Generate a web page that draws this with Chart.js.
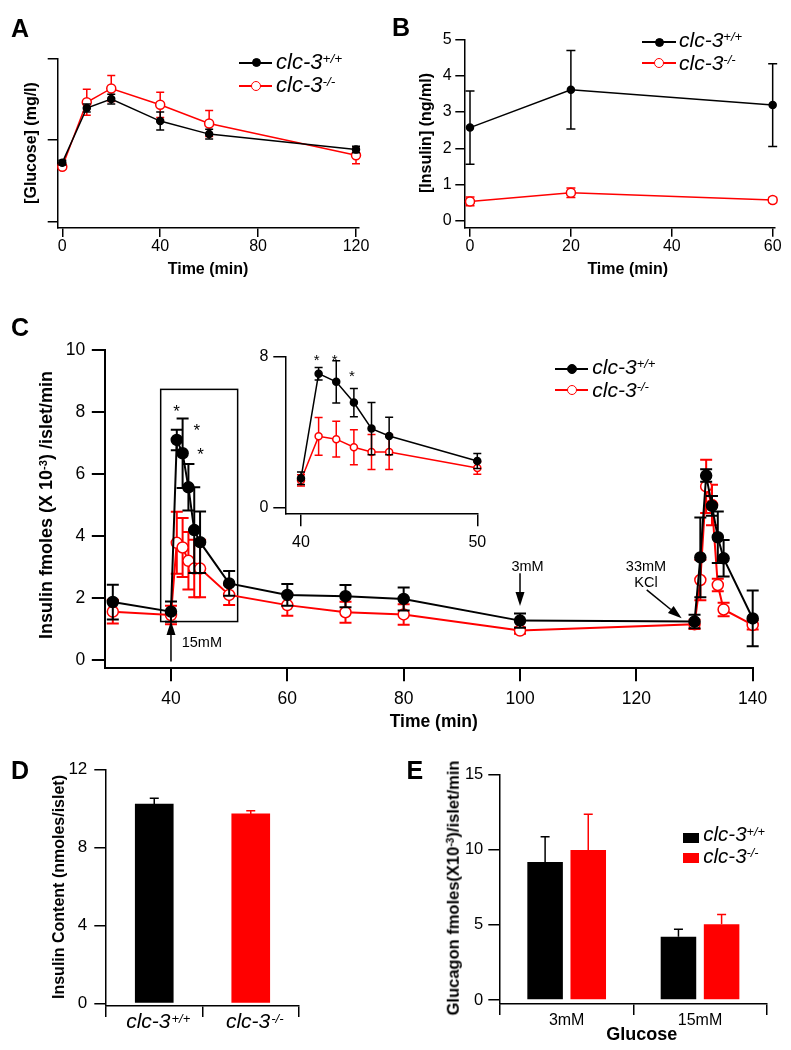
<!DOCTYPE html>
<html>
<head>
<meta charset="utf-8">
<title>clc-3 islet figure</title>
<script src="https://cdn.jsdelivr.net/npm/chart.js@4.4.1/dist/chart.umd.min.js"></script>
<style>
  body { margin: 0; background: #fff; }
  #fig { position: relative; width: 791px; height: 1050px; overflow: hidden;
         font-family: "Liberation Sans", Arial, Helvetica, sans-serif; color: #000; }
  #fig canvas { position: absolute; }
  .t { position: absolute; white-space: nowrap; line-height: 1; }
  .b { font-weight: bold; }
  .i { font-style: italic; }
  .t sup { font-size: 0.62em; vertical-align: baseline; position: relative; top: -0.45em; line-height: 0; }
  .sym { position: absolute; box-sizing: border-box; }
</style>
</head>
<body>
<div id="fig"></div>
<script>
// A: glucose tolerance
const glucoseTime = [0, 10, 20, 40, 60, 120];
const glucoseWT = [172, 239, 250, 223, 207, 188];
const glucoseWTErr = [3, 5, 6, 11, 6, 4];
const glucoseKO = [167, 246, 263, 243, 220, 181];
const glucoseKOErr = [3, 16, 16, 15.5, 16, 10.5];
const glucoseXTicks = [0, 40, 80, 120];
const glucoseYTicks = [100, 200, 300]; // unlabelled in the figure

// B: plasma insulin
const plasmaTime = [0, 20, 60];
const plasmaWT = [2.57, 3.61, 3.19];
const plasmaWTErr = [1.01, 1.08, 1.14];
const plasmaKO = [0.54, 0.78, 0.58];
const plasmaKOErr = [0.12, 0.13, 0.07];
const plasmaXTicks = [0, 20, 40, 60];
const plasmaYTicks = [0, 1, 2, 3, 4, 5];

// C: perifusion insulin secretion
const perifTime = [30, 40, 41, 42, 43, 44, 45, 50, 60, 70, 80, 100, 130, 131, 132, 133, 134, 135, 140];
const perifWT = [1.87, 1.56, 7.1, 6.67, 5.57, 4.19, 3.8, 2.47, 2.1, 2.06, 1.97, 1.27, 1.24, 3.31, 5.95, 4.97, 3.96, 3.28, 1.34];
const perifWTErr = [0.56, 0.33, 0.33, 1.12, 0.75, 1.38, 0.99, 0.4, 0.35, 0.36, 0.37, 0.23, 0.22, 1.29, 0.2, 0.32, 0.83, 0.59, 0.9];
const perifKO = [1.56, 1.45, 3.78, 3.63, 3.2, 2.95, 2.95, 2.1, 1.77, 1.54, 1.47, 0.95, 1.15, 2.58, 5.6, 5.0, 2.42, 1.63, 1.13];
const perifKOErr = [0.38, 0.3, 1.0, 0.95, 0.93, 0.93, 0.93, 0.33, 0.34, 0.34, 0.33, 0.1, 0.15, 0.65, 0.86, 0.65, 0.2, 0.22, 0.15];
const perifXTicks = [40, 60, 80, 100, 120, 140];
const perifYTicks = [0, 2, 4, 6, 8, 10];
const insetXTicks = [40, 50];
const insetYTicks = [0, 8];

// D: insulin content
const contentGenotypes = ['+/+', '-/-'];
const contentValues = [10.22, 9.71];
const contentErr = [0.29, 0.17];
const contentYTicks = [0, 4, 8, 12];

// E: glucagon secretion
const glucagonGlucose = ['3mM', '15mM'];
const glucagonWT = [9.17, 4.21];
const glucagonWTErr = [1.68, 0.49];
const glucagonKO = [9.97, 5.03];
const glucagonKOErr = [2.37, 0.66];
const glucagonYTicks = [0, 5, 10, 15];

const FONT = '"Liberation Sans", Arial, Helvetica, sans-serif';
const BLACK = '#000000';
const RED = '#ff0000';
const fig = document.getElementById('fig');

Chart.defaults.font.family = FONT;
Chart.defaults.color = '#000';
Chart.defaults.animation = false;
Chart.defaults.plugins.legend.display = false;
Chart.defaults.plugins.tooltip.enabled = false;

// error bars, drawn just before each dataset so the markers sit on top
const errorBars = {
  id: 'errorBars',
  beforeDatasetDraw(chart, args) {
    const ds = chart.data.datasets[args.index];
    if (!ds.errors) return;
    const meta = args.meta;
    const yScale = chart.scales[meta.yAxisID];
    const ctx = chart.ctx;
    const half = (ds.capWidth || 8) / 2;
    ctx.save();
    ctx.lineWidth = ds.errWidth || 1.5;
    meta.data.forEach((el, i) => {
      const v = meta.controller.getParsed(i).y;
      const e = ds.errors[i];
      const top = yScale.getPixelForValue(v + e);
      const bot = yScale.getPixelForValue(ds.upOnly ? v : v - e);
      const x = el.x;
      ctx.strokeStyle = Array.isArray(ds.errColor) ? ds.errColor[i] : (ds.errColor || ds.borderColor);
      ctx.beginPath();
      ctx.moveTo(x, bot); ctx.lineTo(x, top);
      ctx.moveTo(x - half, top); ctx.lineTo(x + half, top);
      if (!ds.upOnly) { ctx.moveTo(x - half, bot); ctx.lineTo(x + half, bot); }
      ctx.stroke();
    });
    ctx.restore();
  }
};
Chart.register(errorBars);

function arrow(ctx, x0, y0, x1, y1, len, w) {
  const a = Math.atan2(y1 - y0, x1 - x0);
  const bx = x1 - len * Math.cos(a), by = y1 - len * Math.sin(a);
  ctx.beginPath(); ctx.moveTo(x0, y0); ctx.lineTo(bx, by); ctx.stroke();
  ctx.beginPath(); ctx.moveTo(x1, y1);
  ctx.lineTo(bx + w / 2 * Math.sin(a), by - w / 2 * Math.cos(a));
  ctx.lineTo(bx - w / 2 * Math.sin(a), by + w / 2 * Math.cos(a));
  ctx.closePath(); ctx.fill();
}

// annotations given in data units (box, arrows, labels, significance stars)
function makeNotes(cfg) {
  return {
    id: 'notes',
    beforeDatasetsDraw(chart) {
      if (!cfg.box) return;
      const { ctx, scales: { x, y } } = chart;
      const [x0, y0, x1, y1] = cfg.box;
      ctx.save();
      ctx.strokeStyle = '#000'; ctx.lineWidth = 1.5;
      ctx.strokeRect(x.getPixelForValue(x0), y.getPixelForValue(y0),
        x.getPixelForValue(x1) - x.getPixelForValue(x0), y.getPixelForValue(y1) - y.getPixelForValue(y0));
      ctx.restore();
    },
    afterDatasetsDraw(chart) {
      const { ctx, scales: { x, y } } = chart;
      const px = v => x.getPixelForValue(v), py = v => y.getPixelForValue(v);
      ctx.save();
      ctx.strokeStyle = '#000'; ctx.fillStyle = '#000'; ctx.lineWidth = 1.5;
      (cfg.arrows || []).forEach(a => arrow(ctx, px(a[0]), py(a[1]), px(a[2]), py(a[3]), 14, 9));
      ctx.font = `14.5px ${FONT}`;
      ctx.textBaseline = 'middle';
      (cfg.texts || []).forEach(t => {
        ctx.textAlign = t[3] || 'center';
        ctx.fillText(t[0], px(t[1]), py(t[2]));
      });
      const s = cfg.starSize || 16;
      ctx.font = `${s}px ${FONT}`;
      ctx.textAlign = 'center'; ctx.textBaseline = 'alphabetic';
      (cfg.stars || []).forEach(p => ctx.fillText('*', px(p[0]), py(p[1]) + 0.58 * s));
      ctx.restore();
    }
  };
}

// genotype labels with superscripts under panel D
const genotypeLabels = {
  id: 'genotypeLabels',
  afterDraw(chart) {
    const { ctx, scales: { x } } = chart;
    const base = x.top + 22.3;
    contentGenotypes.forEach((g, i) => {
      const cx = x.getPixelForValue(i) + 4;
      ctx.save();
      ctx.fillStyle = '#000'; ctx.textAlign = 'left'; ctx.textBaseline = 'alphabetic';
      ctx.font = `italic 21px ${FONT}`;
      const w1 = ctx.measureText('clc-3').width;
      ctx.font = `italic 13px ${FONT}`;
      const w2 = ctx.measureText(g).width;
      const left = cx - (w1 + w2 + 1) / 2;
      ctx.font = `italic 21px ${FONT}`;
      ctx.fillText('clc-3', left, base);
      ctx.font = `italic 13px ${FONT}`;
      ctx.fillText(g, left + w1 + 1, base - 5.8);
      ctx.restore();
    });
  }
};

function fixSize(size, horizontal) {
  return s => {
    if (horizontal) s.height = size; else s.width = size;
    s.paddingLeft = s.paddingRight = s.paddingTop = s.paddingBottom = 0;
  };
}

function axis({ min, max, ticks, tick = 9, pad = 3, size = 16, lw = 1.5, labels = true }) {
  return {
    type: 'linear', min, max,
    afterBuildTicks: s => { s.ticks = ticks.map(v => ({ value: v })); },
    border: { color: '#000', width: lw },
    grid: { drawOnChartArea: false, drawTicks: true, tickLength: tick, tickWidth: lw, color: '#000', lineWidth: lw },
    ticks: { display: labels, padding: pad, font: { size }, color: '#000' }
  };
}

function catAxis({ tick = 11, pad = 3, size = 16, lw = 1.5, labels = true }) {
  return {
    type: 'category', offset: true,
    border: { color: '#000', width: lw },
    grid: { offset: true, drawOnChartArea: false, drawTicks: true, tickLength: tick, tickWidth: lw, color: '#000', lineWidth: lw },
    ticks: { display: labels, padding: pad, font: { size }, color: '#000' }
  };
}

function series(xs, ys, errs, color, filled, r, lw, cap) {
  return {
    data: xs.map((x, i) => ({ x, y: ys[i] })),
    errors: errs, capWidth: cap, errWidth: lw,
    showLine: true, borderColor: color, borderWidth: lw,
    pointRadius: r, pointBorderWidth: 1.5,
    pointBackgroundColor: filled ? color : '#ffffff', pointBorderColor: color,
    clip: false
  };
}

// box = canvas placement on the page, area = chart area on the page
function panel(box, area, config) {
  const cv = document.createElement('canvas');
  cv.width = box.w; cv.height = box.h;
  cv.style.left = box.x + 'px'; cv.style.top = box.y + 'px';
  cv.style.width = box.w + 'px'; cv.style.height = box.h + 'px';
  fig.appendChild(cv);
  const o = config.options;
  o.responsive = false;
  o.maintainAspectRatio = false;
  o.layout = { autoPadding: false, padding: { left: 0, top: area.t - box.y, right: box.x + box.w - area.r, bottom: 0 } };
  o.scales.x.afterFit = fixSize(box.y + box.h - area.b, true);
  o.scales.y.afterFit = fixSize(area.l - box.x, false);
  return new Chart(cv, config);
}

// ---- A ----
panel({ x: 0, y: 40, w: 380, h: 230 }, { l: 57.7, t: 58.3, r: 358.3, b: 228 }, {
  type: 'scatter',
  data: { datasets: [
    series(glucoseTime, glucoseWT, glucoseWTErr, BLACK, true, 3.5, 1.5, 8),
    series(glucoseTime, glucoseKO, glucoseKOErr, RED, false, 4.5, 1.5, 8)
  ] },
  options: { scales: {
    x: axis({ min: -1.88, max: 120.94, ticks: glucoseXTicks, tick: 9, pad: 0, size: 16 }),
    y: axis({ min: 91.8, max: 300, ticks: glucoseYTicks, tick: 10, labels: false })
  } }
});

// ---- B ----
panel({ x: 390, y: 25, w: 401, h: 245 }, { l: 464.3, t: 39.3, r: 775, b: 227.7 }, {
  type: 'scatter',
  data: { datasets: [
    series(plasmaTime, plasmaWT, plasmaWTErr, BLACK, true, 3.5, 1.5, 9),
    series(plasmaTime, plasmaKO, plasmaKOErr, RED, false, 4.5, 1.5, 9)
  ] },
  options: { scales: {
    x: axis({ min: -1.13, max: 60.46, ticks: plasmaXTicks, tick: 9, pad: 0, size: 16 }),
    y: axis({ min: -0.184, max: 5, ticks: plasmaYTicks, tick: 9, pad: 3.6, size: 16 })
  } }
});

// ---- C ----
panel({ x: 0, y: 330, w: 791, h: 400 }, { l: 105.3, t: 350, r: 752.7, b: 668.3 }, {
  type: 'scatter',
  data: { datasets: [
    series(perifTime, perifWT, perifWTErr, BLACK, true, 5.5, 2, 12),
    series(perifTime, perifKO, perifKOErr, RED, false, 5.5, 2, 12)
  ] },
  options: { scales: {
    x: axis({ min: 28.71, max: 140, ticks: perifXTicks, tick: 13, pad: 7, size: 17.5, lw: 2 }),
    y: axis({ min: -0.268, max: 10, ticks: perifYTicks, tick: 13.5, pad: 6.6, size: 17.5, lw: 2 })
  } },
  plugins: [makeNotes({
    box: [38.23, 8.73, 51.46, 1.24],
    arrows: [[40, -0.05, 40, 1.26], [100, 2.8, 100, 1.74], [121.78, 2.26, 127.79, 1.345]],
    texts: [['15mM', 41.84, 0.56, 'left'], ['3mM', 101.3, 3.01], ['33mM', 121.66, 3.01], ['KCl', 121.66, 2.47]],
    stars: [[40.98, 8.17], [44.42, 7.55], [45.1, 6.77]],
    starSize: 17
  })]
});

// ---- C inset (40-50 min) ----
panel({ x: 250, y: 345, w: 240, h: 215 }, { l: 286, t: 356.7, r: 477.3, b: 513.3 }, {
  type: 'scatter',
  data: { datasets: [
    series(perifTime.slice(1, 8), perifWT.slice(1, 8), perifWTErr.slice(1, 8), BLACK, true, 3.5, 1.5, 8),
    series(perifTime.slice(1, 8), perifKO.slice(1, 8), perifKOErr.slice(1, 8), RED, false, 3.5, 1.5, 8)
  ] },
  options: { scales: {
    x: axis({ min: 39.15, max: 50, ticks: insetXTicks, tick: 13, pad: 6.8, size: 16 }),
    y: axis({ min: -0.297, max: 8, ticks: insetYTicks, tick: 12.7, pad: 5, size: 16 })
  } },
  plugins: [makeNotes({ stars: [[40.89, 8.03], [41.91, 8.03], [42.89, 7.16]], starSize: 15 })]
});

// ---- D ----
panel({ x: 0, y: 750, w: 330, h: 300 }, { l: 106, t: 769.3, r: 299, b: 1006 }, {
  type: 'bar',
  data: {
    labels: contentGenotypes,
    datasets: [{
      data: contentValues, backgroundColor: [BLACK, RED], borderWidth: 0, barThickness: 38,
      errors: contentErr, errColor: [BLACK, RED], upOnly: true, capWidth: 9
    }]
  },
  options: { scales: {
    x: catAxis({ tick: 11, labels: false }),
    y: axis({ min: -0.14, max: 12, ticks: contentYTicks, tick: 11.7, pad: 7, size: 17 })
  } },
  plugins: [genotypeLabels]
});

// ---- E ----
panel({ x: 400, y: 750, w: 391, h: 300 }, { l: 500, t: 774.3, r: 766.7, b: 1004 }, {
  type: 'bar',
  data: {
    labels: glucagonGlucose,
    datasets: [
      { data: glucagonWT, backgroundColor: BLACK, borderWidth: 0, categoryPercentage: 0.647, barPercentage: 0.824,
        errors: glucagonWTErr, errColor: BLACK, upOnly: true, capWidth: 9 },
      { data: glucagonKO, backgroundColor: RED, borderWidth: 0, categoryPercentage: 0.647, barPercentage: 0.824,
        errors: glucagonKOErr, errColor: RED, upOnly: true, capWidth: 9 }
    ]
  },
  options: { scales: {
    x: catAxis({ tick: 11, pad: -4, size: 16 }),
    y: axis({ min: -0.266, max: 15, ticks: glucagonYTicks, tick: 11.7, pad: 5, size: 16.5 })
  } }
});

// ---- text: letters, axis titles, legends ----
function addText(html, x, base, size, cls, center) {
  const d = document.createElement('div');
  d.className = 't ' + (cls || '');
  d.innerHTML = html;
  d.style.fontSize = size + 'px';
  d.style.left = x + 'px';
  d.style.top = (base - 0.8465 * size) + 'px';
  if (center) d.style.transform = 'translateX(-50%)';
  fig.appendChild(d);
}
function addVText(html, cx, cy, size) {
  const d = document.createElement('div');
  d.className = 't b';
  d.innerHTML = html;
  d.style.fontSize = size + 'px';
  d.style.left = cx + 'px';
  d.style.top = cy + 'px';
  d.style.transform = 'translate(-50%, -50%) rotate(-90deg)';
  fig.appendChild(d);
}
function sym(x, y, w, h, css) {
  const d = document.createElement('div');
  d.className = 'sym';
  d.style.left = x + 'px'; d.style.top = y + 'px';
  d.style.width = w + 'px'; d.style.height = h + 'px';
  Object.assign(d.style, css);
  fig.appendChild(d);
}
function lineLegend(x0, x1, mx, y, color, filled, r, tx, base, size, sup) {
  sym(x0, y - 1, x1 - x0, 2, { background: color });
  sym(mx - r, y - r, 2 * r, 2 * r, { borderRadius: '50%', border: `1.5px solid ${color}`, background: filled ? color : '#fff' });
  addText(`clc-3<sup>${sup}</sup>`, tx, base, size, 'i');
}

addText('A', 11, 36.7, 25, 'b');
addText('B', 392, 36.3, 25, 'b');
addText('C', 11, 336, 25, 'b');
addText('D', 11, 779.3, 25, 'b');
addText('E', 406.5, 779.3, 25, 'b');

addText('Time (min)', 208, 275, 16, 'b', true);
addText('Time (min)', 627.7, 275, 16, 'b', true);
addText('Time (min)', 433.8, 728.3, 17.5, 'b', true);
addText('Glucose', 641.7, 1040.7, 18, 'b', true);

addVText('[Glucose] (mg/l)', 30.5, 142.5, 16);
addVText('[Insulin] (ng/ml)', 425.8, 132.5, 16);
addVText('Insulin fmoles (X 10<sup>-3</sup>) /islet/min', 46, 505, 18);
addVText('Insulin Content (nmoles/islet)', 59.2, 886.7, 16);
addVText('Glucagon fmoles(X10<sup>-3</sup>)/islet/min', 452.5, 888, 16.5);

lineLegend(239, 272, 256, 62.7, BLACK, true, 4.5, 276, 69.3, 22, '+/+');
lineLegend(239, 272, 256, 86, RED, false, 5, 276, 92.7, 22, '-/-');
lineLegend(642, 676, 659.3, 42.3, BLACK, true, 4.5, 679, 46.7, 21, '+/+');
lineLegend(642, 676, 659.3, 63.3, RED, false, 5, 679, 70, 21, '-/-');
lineLegend(555, 588, 571.7, 369, BLACK, true, 5, 592.3, 374, 21, '+/+');
lineLegend(555, 588, 571.7, 390, RED, false, 5, 592.3, 396.7, 21, '-/-');

sym(682.7, 832.7, 16.6, 10.6, { background: BLACK });
addText('clc-3<sup>+/+</sup>', 703.3, 841.7, 20.5, 'i');
sym(682.7, 852.7, 16.6, 10.6, { background: RED });
addText('clc-3<sup>-/-</sup>', 703.3, 863.3, 20.5, 'i');
</script>
</body>
</html>
